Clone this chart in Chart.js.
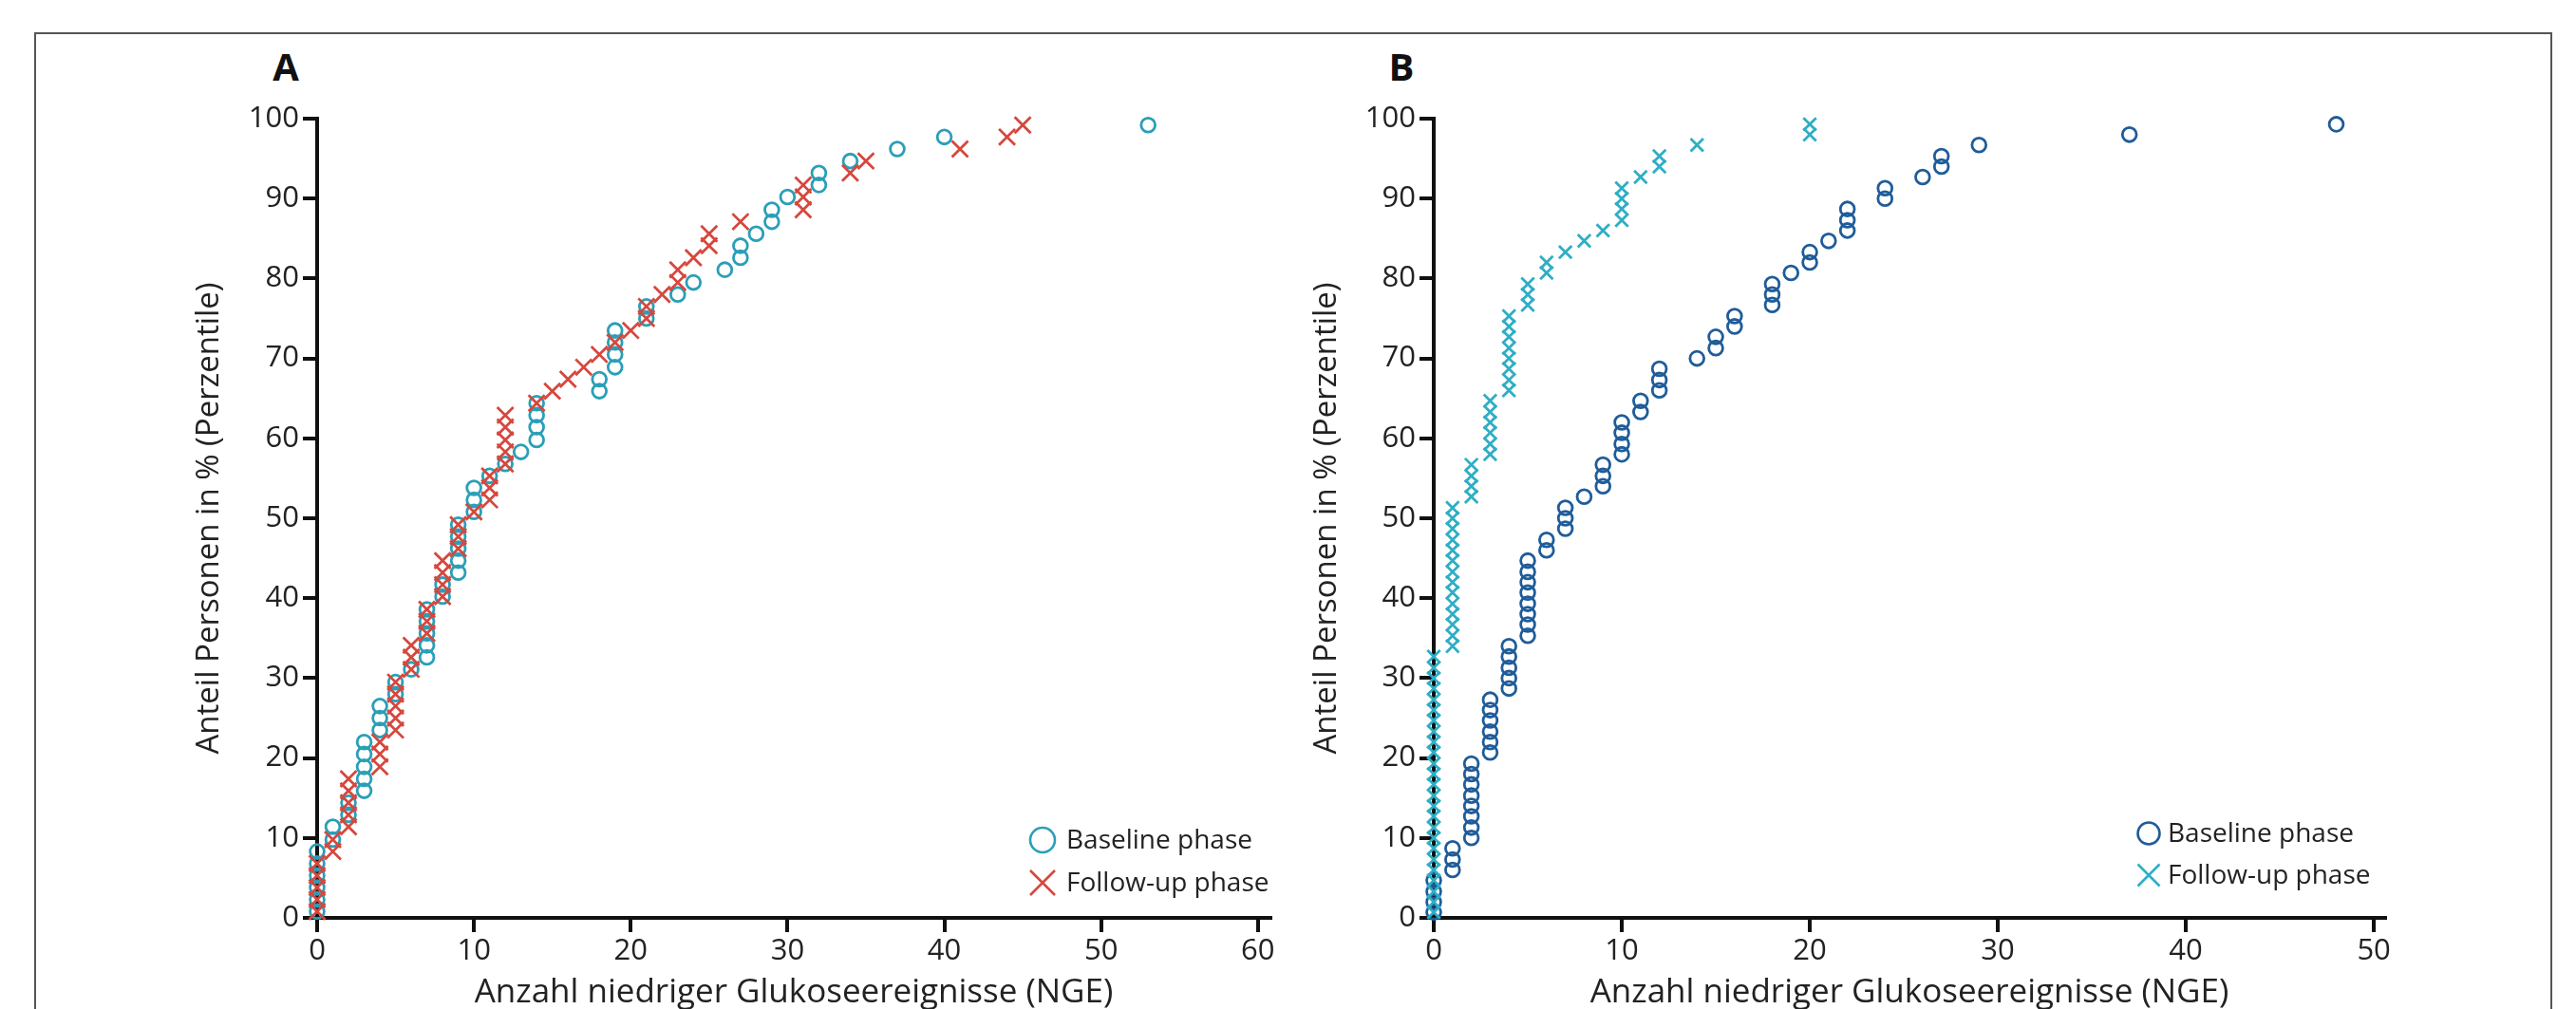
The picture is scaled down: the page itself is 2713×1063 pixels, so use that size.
<!DOCTYPE html>
<html>
<head>
<meta charset="utf-8">
<script src="https://cdn.jsdelivr.net/npm/chart.js@4.4.1/dist/chart.umd.min.js"></script>
<style>
  html, body { margin: 0; padding: 0; background: #fff; overflow: hidden; }
  body { width: 2713px; height: 1063px; position: relative; font-family: "Open Sans", sans-serif; }
  #frame { position: absolute; left: 36px; top: 34px; width: 2652px; height: 1100px; border: 2px solid #555; box-sizing: border-box; }
  .panel { position: absolute; top: 0; height: 1090px; }
  #panelA { left: 0; width: 1400px; }
  #panelB { left: 1360px; width: 1340px; }
  .tag { position: absolute; width: 60px; text-align: center; font: bold 40px "Open Sans", sans-serif; color: #111; line-height: 40px; top: 50px; }
</style>
</head>
<body>
<div id="frame"></div>
<div class="tag" style="left:271px">A</div>
<div class="tag" style="left:1446px">B</div>
<div class="panel" id="panelA"><canvas id="chartA"></canvas></div>
<div class="panel" id="panelB"><canvas id="chartB"></canvas></div>
<script>
// Panel A: percentiles (y) shared by both phases, 66 persons
const pctA = [0.8, 2.3, 3.8, 5.3, 6.8, 8.3, 9.8, 11.4, 12.9, 14.4,
  15.9, 17.4, 18.9, 20.5, 22.0, 23.5, 25.0, 26.5, 28.0, 29.5,
  31.1, 32.6, 34.1, 35.6, 37.1, 38.6, 40.2, 41.7, 43.2, 44.7,
  46.2, 47.7, 49.2, 50.8, 52.3, 53.8, 55.3, 56.8, 58.3, 59.8,
  61.4, 62.9, 64.4, 65.9, 67.4, 68.9, 70.5, 72.0, 73.5, 75.0,
  76.5, 78.0, 79.5, 81.1, 82.6, 84.1, 85.6, 87.1, 88.6, 90.2,
  91.7, 93.2, 94.7, 96.2, 97.7, 99.2];
const baselineA = [0, 0, 0, 0, 0, 0, 1, 1, 2, 2, 3, 3, 3, 3, 3, 4, 4, 4, 5, 5, 6,
  7, 7, 7, 7, 7, 8, 8, 9, 9, 9, 9, 9, 10, 10, 10, 11, 12, 13, 14, 14, 14, 14,
  18, 18, 19, 19, 19, 19, 21, 21, 23, 24, 26, 27, 27, 28, 29, 29, 30, 32, 32,
  34, 37, 40, 53];
const followA = [0, 0, 0, 0, 0, 1, 1, 2, 2, 2, 2, 2, 4, 4, 4, 5, 5, 5, 5, 5,
  6, 6, 6, 7, 7, 7, 8, 8, 8, 8, 9, 9, 9, 10, 11, 11, 11, 12, 12, 12, 12, 12,
  14, 15, 16, 17, 18, 19, 20, 21, 21, 22, 23, 23, 24, 25, 25, 27, 31, 31, 31,
  34, 35, 41, 44, 45];

// Panel B: 75 persons
const pctB = [0.7, 2.0, 3.3, 4.7, 6.0, 7.3, 8.7, 10.0, 11.3, 12.7,
  14.0, 15.3, 16.7, 18.0, 19.3, 20.7, 22.0, 23.3, 24.7, 26.0,
  27.3, 28.7, 30.0, 31.3, 32.7, 34.0, 35.3, 36.7, 38.0, 39.3,
  40.7, 42.0, 43.3, 44.7, 46.0, 47.3, 48.7, 50.0, 51.3, 52.7,
  54.0, 55.3, 56.7, 58.0, 59.3, 60.7, 62.0, 63.3, 64.7, 66.0,
  67.3, 68.7, 70.0, 71.3, 72.7, 74.0, 75.3, 76.7, 78.0, 79.3,
  80.7, 82.0, 83.3, 84.7, 86.0, 87.3, 88.7, 90.0, 91.3, 92.7,
  94.0, 95.3, 96.7, 98.0, 99.3];
const baselineB = [0, 0, 0, 0, 1, 1, 1, 2, 2, 2, 2, 2, 2, 2, 2, 3, 3, 3, 3, 3, 3,
  4, 4, 4, 4, 4, 5, 5, 5, 5, 5, 5, 5, 5, 6, 6, 7, 7, 7, 8, 9, 9, 9,
  10, 10, 10, 10, 11, 11, 12, 12, 12, 14, 15, 15, 16, 16, 18, 18, 18, 19,
  20, 20, 21, 22, 22, 22, 24, 24, 26, 27, 27, 29, 37, 48];
const followB = [0, 0, 0, 0, 0, 0, 0, 0, 0, 0, 0, 0, 0, 0, 0, 0, 0, 0, 0, 0, 0, 0, 0, 0, 0,
  1, 1, 1, 1, 1, 1, 1, 1, 1, 1, 1, 1, 1, 1, 2, 2, 2, 2, 3, 3, 3, 3, 3, 3,
  4, 4, 4, 4, 4, 4, 4, 4, 5, 5, 5, 6, 6, 7, 8, 9, 10, 10, 10, 10, 11, 12, 12,
  14, 20, 20];

const seriesNames = ['Baseline phase', 'Follow-up phase'];
const yTicks = [0, 10, 20, 30, 40, 50, 60, 70, 80, 90, 100];
const xTicksA = [0, 10, 20, 30, 40, 50, 60];
const xTicksB = [0, 10, 20, 30, 40, 50];

const FONT = '"Open Sans", sans-serif';

function punkte(xs, ys) {
  return xs.map((x, i) => ({ x: x, y: ys[i] }));
}

// legend drawn inside the plot, lower right
const legendeInnen = {
  id: 'legendeInnen',
  afterDraw(chart, args, opts) {
    const { ctx, chartArea } = chart;
    ctx.save();
    ctx.font = '28px ' + FONT;
    ctx.textBaseline = 'middle';
    chart.data.datasets.slice().sort((a, b) => a.legendRow - b.legendRow).forEach((ds, i) => {
      const x = chartArea.right - opts.offsetX;
      const y = chartArea.bottom - opts.offsetY + i * opts.rowGap;
      ctx.strokeStyle = ds.pointBorderColor;
      ctx.lineWidth = 2.6;
      ctx.beginPath();
      if (ds.pointStyle === 'circle') {
        ctx.arc(x, y, opts.size, 0, Math.PI * 2);
      } else {
        ctx.moveTo(x - opts.size, y - opts.size);
        ctx.lineTo(x + opts.size, y + opts.size);
        ctx.moveTo(x - opts.size, y + opts.size);
        ctx.lineTo(x + opts.size, y - opts.size);
      }
      ctx.stroke();
      ctx.fillStyle = '#222';
      ctx.fillText(ds.label, x + opts.textGap, y + 1);
    });
    ctx.restore();
  }
};

function macheChart(id, cfg) {
  const canvas = document.getElementById(id);
  const box = canvas.parentElement;
  canvas.width = box.clientWidth;
  canvas.height = box.clientHeight;
  return new Chart(canvas, {
    type: 'scatter',
    data: {
      datasets: [
        {
          label: seriesNames[1],
          legendRow: 1,
          data: punkte(cfg.followX, cfg.pct),
          pointStyle: 'crossRot',
          pointRadius: cfg.crossR,
          pointBorderWidth: 2.8,
          pointBorderColor: cfg.followColor,
          pointBackgroundColor: cfg.followColor,
          clip: false,
          order: 0
        },
        {
          label: seriesNames[0],
          legendRow: 0,
          data: punkte(cfg.baseX, cfg.pct),
          pointStyle: 'circle',
          pointRadius: 7.4,
          pointBorderWidth: 2.8,
          pointBorderColor: cfg.baseColor,
          pointBackgroundColor: 'rgba(0,0,0,0)',
          clip: false,
          order: 1
        }
      ]
    },
    options: {
      responsive: false,
      animation: false,
      events: [],
      layout: { padding: { left: cfg.padLeft, top: 125, right: cfg.padRight, bottom: 19 } },
      scales: {
        x: {
          type: 'linear',
          min: 0,
          max: cfg.xMax,
          afterFit: (s) => { s.height = 104; },
          afterBuildTicks: (s) => { s.ticks = cfg.xTicks.map(v => ({ value: v })); },
          ticks: { font: { size: 31, family: FONT }, color: '#222', padding: 2 },
          grid: { drawOnChartArea: false, drawTicks: true, tickLength: 15, color: '#111', lineWidth: 4 },
          border: { display: true, color: '#111', width: 4 },
          title: { display: true, text: 'Anzahl niedriger Glukoseereignisse (NGE)', font: { size: 35, family: FONT }, color: '#222' }
        },
        y: {
          type: 'linear',
          min: 0,
          max: 100,
          afterFit: (s) => { s.width = cfg.yWidth; },
          afterBuildTicks: (s) => { s.ticks = yTicks.map(v => ({ value: v })); },
          ticks: { font: { size: 31, family: FONT }, color: '#222', padding: 4 },
          grid: { drawOnChartArea: false, drawTicks: true, tickLength: 15, color: '#111', lineWidth: 4 },
          border: { display: true, color: '#111', width: 4 },
          title: { display: true, text: 'Anteil Personen in % (Perzentile)', font: { size: 33, family: FONT }, color: '#222' }
        }
      },
      plugins: {
        legend: { display: false },
        tooltip: { enabled: false },
        legendeInnen: cfg.legend
      }
    },
    plugins: [legendeInnen]
  });
}

// panel A: plot area from x=334 to 1338 (page px)
macheChart('chartA', {
  baseX: baselineA, followX: followA, pct: pctA,
  baseColor: '#2a9fb8', followColor: '#d6473d',
  crossR: 12,
  xMax: 60.8, xTicks: xTicksA,
  padLeft: 197, yWidth: 137, padRight: 1400 - 1338,
  legend: { offsetX: 240, offsetY: 82, rowGap: 45, size: 13, textGap: 25 }
});

// panel B: canvas starts at page x=1360, plot from 1510 to 2512
macheChart('chartB', {
  baseX: baselineB, followX: followB, pct: pctB,
  baseColor: '#1f5c99', followColor: '#2eaec4',
  crossR: 9.5,
  xMax: 50.6, xTicks: xTicksB,
  padLeft: 1374 - 1360, yWidth: 1510 - 1374, padRight: 2700 - 2512,
  legend: { offsetX: 249, offsetY: 89, rowGap: 44, size: 11.5, textGap: 20 }
});
</script>
</body>
</html>
